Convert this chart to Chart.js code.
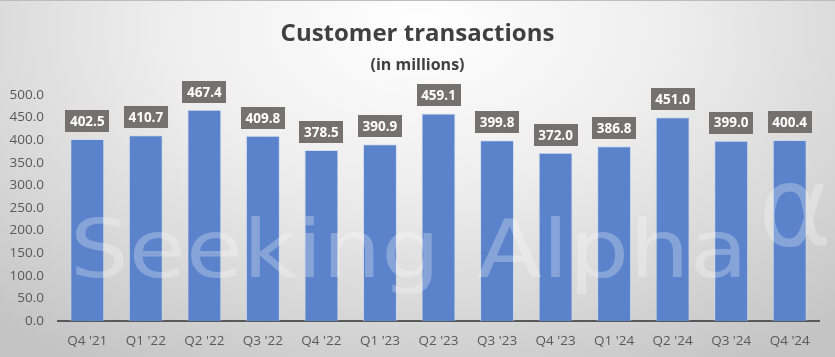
<!DOCTYPE html>
<html><head><meta charset="utf-8">
<script src="https://cdn.jsdelivr.net/npm/chart.js@4"></script>
<style>
html,body{margin:0;padding:0;}
body{width:835px;height:357px;overflow:hidden;background:radial-gradient(ellipse 75% 110% at 50% 8%, #ffffff 0%, #eeeeee 40%, #d6d6d6 75%, #c4c4c4 100%);}
#wrap{position:relative;width:835px;height:357px;border-top:1px solid #bdbdbd;box-sizing:border-box;}
</style></head>
<body><div id="wrap"><canvas id="c" width="835" height="356"></canvas></div>
<script>
const categories = ["Q4 '21","Q1 '22","Q2 '22","Q3 '22","Q4 '22","Q1 '23","Q2 '23","Q3 '23","Q4 '23","Q1 '24","Q2 '24","Q3 '24","Q4 '24"];
const transactions = [402.5,410.7,467.4,409.8,378.5,390.9,459.1,399.8,372.0,386.8,451.0,399.0,400.4];
const titleText = "Customer transactions";
const subtitleText = "(in millions)";
const yTicks = {min:0, max:500, step:50};

const FONT = "'Open Sans', 'Liberation Sans', sans-serif";

function fitText(ctx, txt, x, y, w){
  const m = ctx.measureText(txt).width;
  ctx.save();
  ctx.translate(x, y);
  ctx.scale(w / m, 1);
  ctx.fillText(txt, 0, 0);
  ctx.restore();
}

const watermark = {
  id:'watermark',
  afterDatasetsDraw(chart){
    const ctx = chart.ctx;
    ctx.save();
    ctx.fillStyle = 'rgba(255,255,255,0.27)';
    ctx.font = "80px 'DejaVu Sans', sans-serif";
    ctx.textBaseline = 'alphabetic';
    ctx.textAlign = 'left';
    fitText(ctx, 'Seeking', 70, 276, 370);
    fitText(ctx, 'Alpha', 477, 276, 271);
    ctx.font = "112px 'DejaVu Sans', sans-serif";
    ctx.fillText('α', 758, 244);
    ctx.restore();
  }
};

const labels = {
  id:'barLabels',
  afterDatasetsDraw(chart){
    const ctx = chart.ctx;
    const meta = chart.getDatasetMeta(0);
    ctx.save();
    ctx.font = "bold 13.5px " + FONT;
    ctx.textAlign = 'center';
    ctx.textBaseline = 'middle';
    meta.data.forEach((bar,i)=>{
      const txt = transactions[i].toFixed(1);
      const w = 44, h = 22;
      const x = bar.x, yb = bar.y - 7;
      ctx.fillStyle = '#767171';
      ctx.fillRect(Math.round(x - w/2), Math.round(yb - h), w, h);
      ctx.fillStyle = '#ffffff';
      ctx.fillText(txt, x, yb - h/2 + 1);
    });
    ctx.restore();
  }
};

new Chart(document.getElementById('c'), {
  type:'bar',
  data:{
    labels: categories,
    datasets:[{
      data: transactions,
      backgroundColor:'#5b83cb',
      borderColor:'rgba(200,215,240,0.7)',
      borderWidth:1,
      barPercentage:0.58,
      categoryPercentage:1.0
    }]
  },
  options:{
    responsive:false,
    animation:false,
    devicePixelRatio:1,
    layout:{padding:{left:0,right:0,top:0,bottom:0}},
    plugins:{
      legend:{display:false},
      tooltip:{enabled:false},
      title:{display:true,text:titleText,color:'#404040',font:{family:FONT,size:24,weight:'bold'},padding:{top:19,bottom:7}},
      subtitle:{display:true,text:subtitleText,color:'#404040',font:{family:FONT,size:16,weight:'bold'},padding:{top:0,bottom:20}}
    },
    scales:{
      x:{
        grid:{display:false},
        border:{display:true,color:'#595959',width:2},
        ticks:{color:'#595959',font:{family:FONT,size:13.5},padding:4,maxRotation:0},
        afterFit(s){ s.height = 36; }
      },
      y:{
        min:yTicks.min,max:yTicks.max,
        grid:{display:false},
        border:{display:false},
        ticks:{stepSize:yTicks.step,color:'#595959',font:{family:FONT,size:13.5},padding:6,callback:v=>v.toFixed(1)},
        afterFit(s){ s.width = 58; }
      },
      yR:{
        position:'right',
        display:true,
        grid:{display:false},
        border:{display:false},
        ticks:{display:false},
        afterFit(s){ s.width = 16; }
      }
    }
  },
  plugins:[watermark,labels]
});
</script>
</body></html>
